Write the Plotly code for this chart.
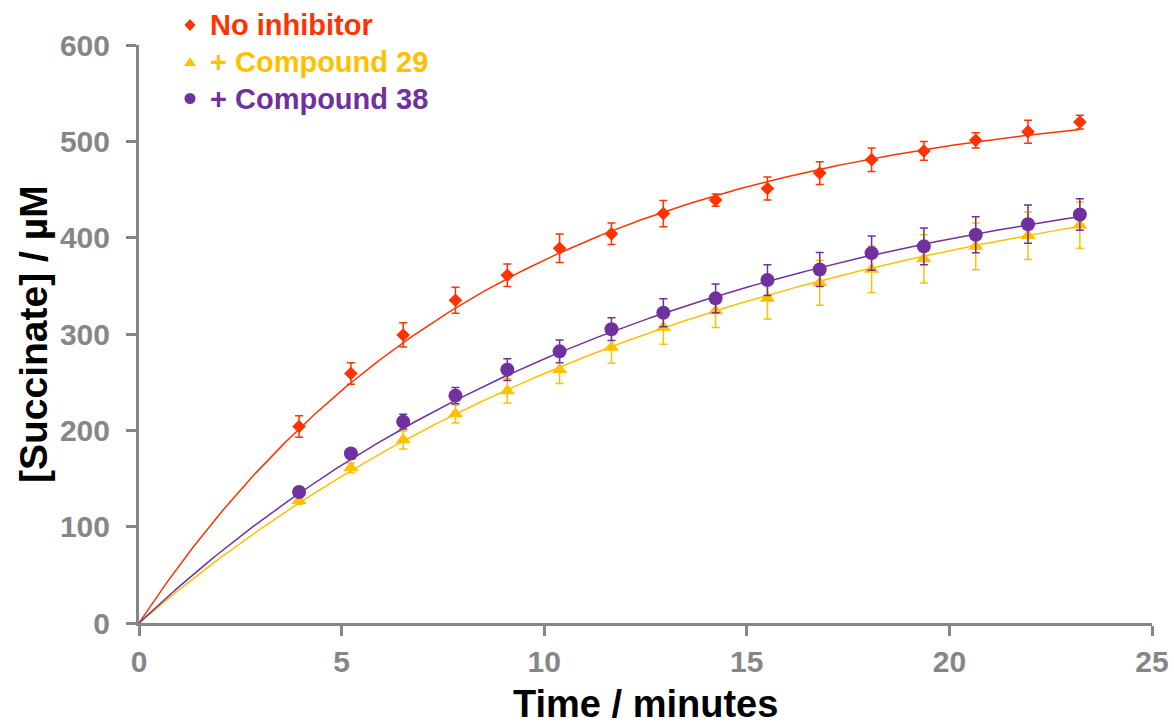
import numpy as np
import plotly.graph_objects as go

# Sampling times (minutes)
time_min = [3.95, 5.23, 6.52, 7.81, 9.09, 10.38, 11.66, 12.94,
            14.23, 15.51, 16.80, 18.08, 19.37, 20.65, 21.94, 23.22]

# Succinate produced (µM) with standard deviations
no_inhibitor = [204, 259, 299, 335, 361, 389, 404, 425,
                439, 451, 467, 481, 490, 501, 510, 520]
no_inhibitor_err = [11.2, 11.2, 12.6, 13.5, 11.7, 14.7, 11.2, 13.7,
                    6.4, 11.9, 11.7, 12.2, 9.7, 8.0, 11.9, 7.1]

compound_29 = [127, 161, 190, 217, 241, 263, 286, 307,
               324, 337, 353, 367, 378, 391, 402, 413]
compound_29_err = [4, 5, 9.3, 9.3, 12.5, 14.5, 16.3, 17.7,
                   17.3, 21.5, 23.2, 24.0, 25.0, 24.3, 24.6, 24.0]

compound_38 = [136, 176, 209, 236, 263, 282, 305, 322,
               337, 356, 367, 384, 391, 403, 414, 424]
compound_38_err = [3, 4, 7.6, 8.5, 11.3, 11.8, 11.8, 14.5,
                   15.0, 16.0, 17.7, 17.7, 19.0, 18.7, 19.8, 16.3]

# Single-exponential fits: S(t) = A * (1 - exp(-k t))
fit_params = {
    "no_inhibitor": (550.0, 0.1155),
    "compound_29": (510.0, 0.0709),
    "compound_38": (502.0, 0.0790),
}

RED = "#FF3300"
YELLOW = "#FFC000"
PURPLE = "#7030A0"
GREY = "#868686"
FONT = "Liberation Sans, Arial, sans-serif"

series = [
    ("no_inhibitor", "No inhibitor", no_inhibitor, no_inhibitor_err, RED, "diamond", 10.5),
    ("compound_29", "+ Compound 29", compound_29, compound_29_err, YELLOW, "triangle-up", 13.5),
    ("compound_38", "+ Compound 38", compound_38, compound_38_err, PURPLE, "circle", 14),
]

# Figure geometry (pixels)
W, H = 1174, 726
M_L, M_R, M_T, M_B = 139, 22, 45, 103
PW, PH = W - M_L - M_R, H - M_T - M_B


def px_to_paper_x(px):
    return (px - M_L) / PW


def px_to_paper_y(py):
    return (H - M_B - py) / PH


fig = go.Figure()
t_fit = np.linspace(0, max(time_min), 300)

for key, label, values, errs, color, symbol, size in series:
    A, k = fit_params[key]
    fig.add_trace(go.Scatter(
        x=t_fit, y=A * (1 - np.exp(-k * t_fit)),
        mode="lines", line=dict(color=color, width=1.5),
        showlegend=False, hoverinfo="skip",
    ))
    fig.add_trace(go.Scatter(
        x=time_min, y=values, mode="markers", name=label,
        marker=dict(symbol=symbol, size=size, color=color),
        error_y=dict(type="data", array=errs, visible=True,
                     color=color, thickness=1.5, width=4),
        showlegend=False,
    ))

# Key: coloured labels with small symbols, stacked at the top left
key_rows_y = [25, 62, 98.5]
key_symbols = {
    "diamond": "M -5.5 0 L 0 6 L 5.5 0 L 0 -6 Z",
    "triangle-up": "M -6 -4 L 6 -4 L 0 5 Z",
}
for (key, label, _, _, color, symbol, _), row_y in zip(series, key_rows_y):
    ya = px_to_paper_y(row_y)
    xa = px_to_paper_x(190)
    fig.add_annotation(
        xref="paper", yref="paper", x=px_to_paper_x(208), y=ya,
        xanchor="left", yanchor="middle", showarrow=False, text=label,
        font=dict(family=FONT, size=29, color=color, weight="bold"),
    )
    common = dict(xref="paper", yref="paper", xsizemode="pixel", ysizemode="pixel",
                  xanchor=xa, yanchor=ya, fillcolor=color, line=dict(width=0))
    if symbol == "circle":
        fig.add_shape(type="circle", x0=-5.5, x1=5.5, y0=-5.5, y1=5.5, **common)
    else:
        fig.add_shape(type="path", path=key_symbols[symbol], **common)

axis_common = dict(
    showgrid=False, zeroline=False, showline=True,
    linecolor=GREY, linewidth=3,
    ticks="outside", ticklen=10, tickwidth=3, tickcolor=GREY,
    tickfont=dict(family=FONT, size=30, color=GREY, weight="bold"),
)

# Axis titles
fig.add_annotation(
    xref="paper", yref="paper", x=0.5, y=px_to_paper_y(704),
    xanchor="center", yanchor="middle", showarrow=False,
    text="Time / minutes",
    font=dict(family=FONT, size=38, color="black", weight="bold"),
)
fig.add_annotation(
    xref="paper", yref="paper", x=px_to_paper_x(33), y=0.5,
    xanchor="center", yanchor="middle", showarrow=False, textangle=-90,
    text="[Succinate] / µM",
    font=dict(family=FONT, size=39, color="black", weight="bold"),
)

fig.update_layout(
    width=W, height=H,
    margin=dict(l=M_L, r=M_R, t=M_T, b=M_B, autoexpand=False),
    paper_bgcolor="white", plot_bgcolor="white",
    showlegend=False,
    xaxis=dict(range=[0, 25], tickvals=[0, 5, 10, 15, 20, 25],
               ticklabelstandoff=0, **axis_common),
    yaxis=dict(range=[0, 600], tickvals=[0, 100, 200, 300, 400, 500, 600],
               ticklabelstandoff=10, **axis_common),
)

fig.write_html("out.html")
